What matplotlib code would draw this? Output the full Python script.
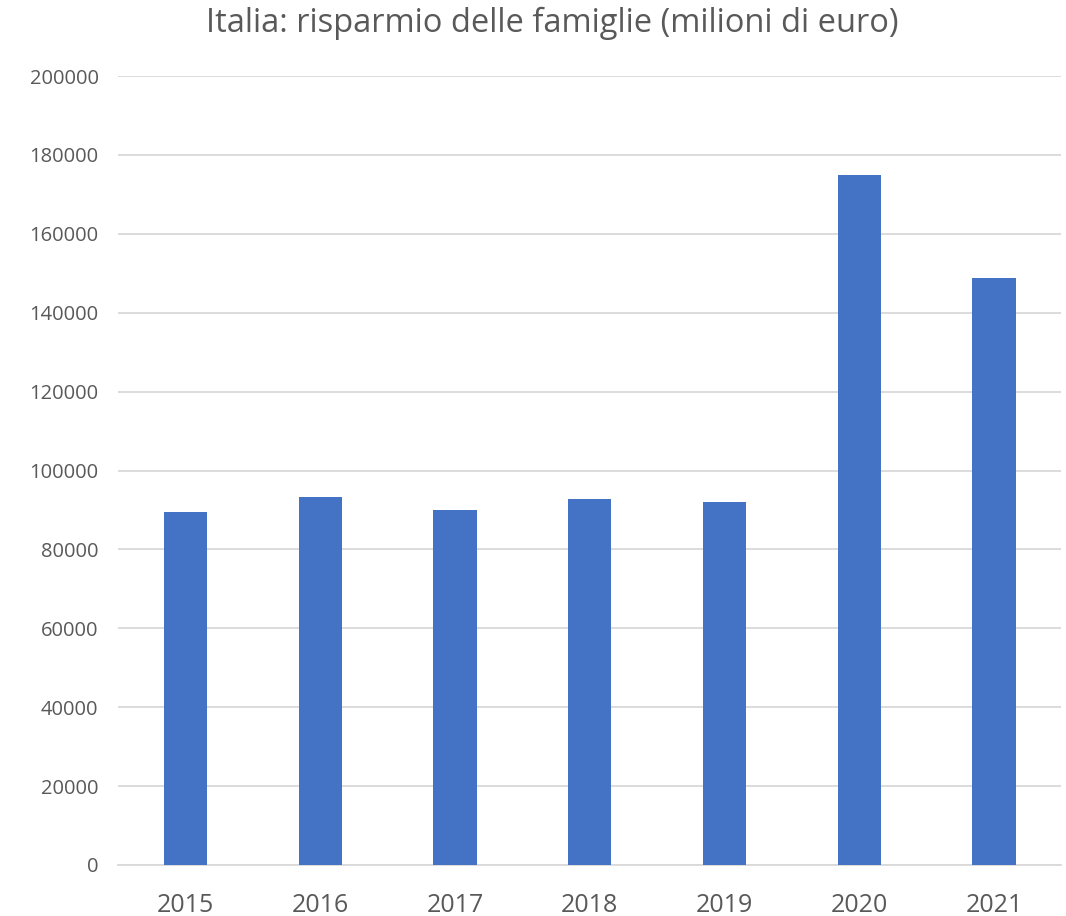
import numpy as np
import matplotlib
matplotlib.use('Agg')
import matplotlib.pyplot as plt

# data
years = ['2015', '2016', '2017', '2018', '2019', '2020', '2021']
risparmio = [89400, 93200, 89900, 92700, 92100, 174800, 148900]
yTicks = [0, 20000, 40000, 60000, 80000, 100000, 120000, 140000, 160000, 180000, 200000]

plt.rcParams['font.family'] = ['Open Sans', 'DejaVu Sans']
textColor = '#595959'

fig = plt.figure(figsize=(10.66, 9.16), dpi=100)
ax = fig.add_axes([0.1107, 0.0557, 0.885, 0.8613])
x = np.arange(len(years))
ax.bar(x, risparmio, width=0.32, color='#4472C4', zorder=3)

ax.set_xlim(-0.5, len(years) - 0.5)
ax.set_ylim(0, 200000)
ax.set_yticks(yTicks)
ax.set_yticklabels([str(v) for v in yTicks], fontsize=14.5, color=textColor)
ax.set_xticks(x)
ax.set_xticklabels(years, fontsize=18, color=textColor)
ax.tick_params(axis='both', length=0)
ax.tick_params(axis='y', pad=14)
ax.tick_params(axis='x', pad=20)
ax.grid(axis='y', color='#D9D9D9', linewidth=1.3, zorder=0)
for side in ['top', 'right', 'left']:
    ax.spines[side].set_visible(False)
ax.spines['bottom'].set_color('#D9D9D9')
ax.spines['bottom'].set_linewidth(1.3)

fig.text(0.518, 0.974, 'Italia: risparmio delle famiglie (milioni di euro)',
         ha='center', va='center', fontsize=23.5, color=textColor)

fig.savefig('out.png', dpi=100)
